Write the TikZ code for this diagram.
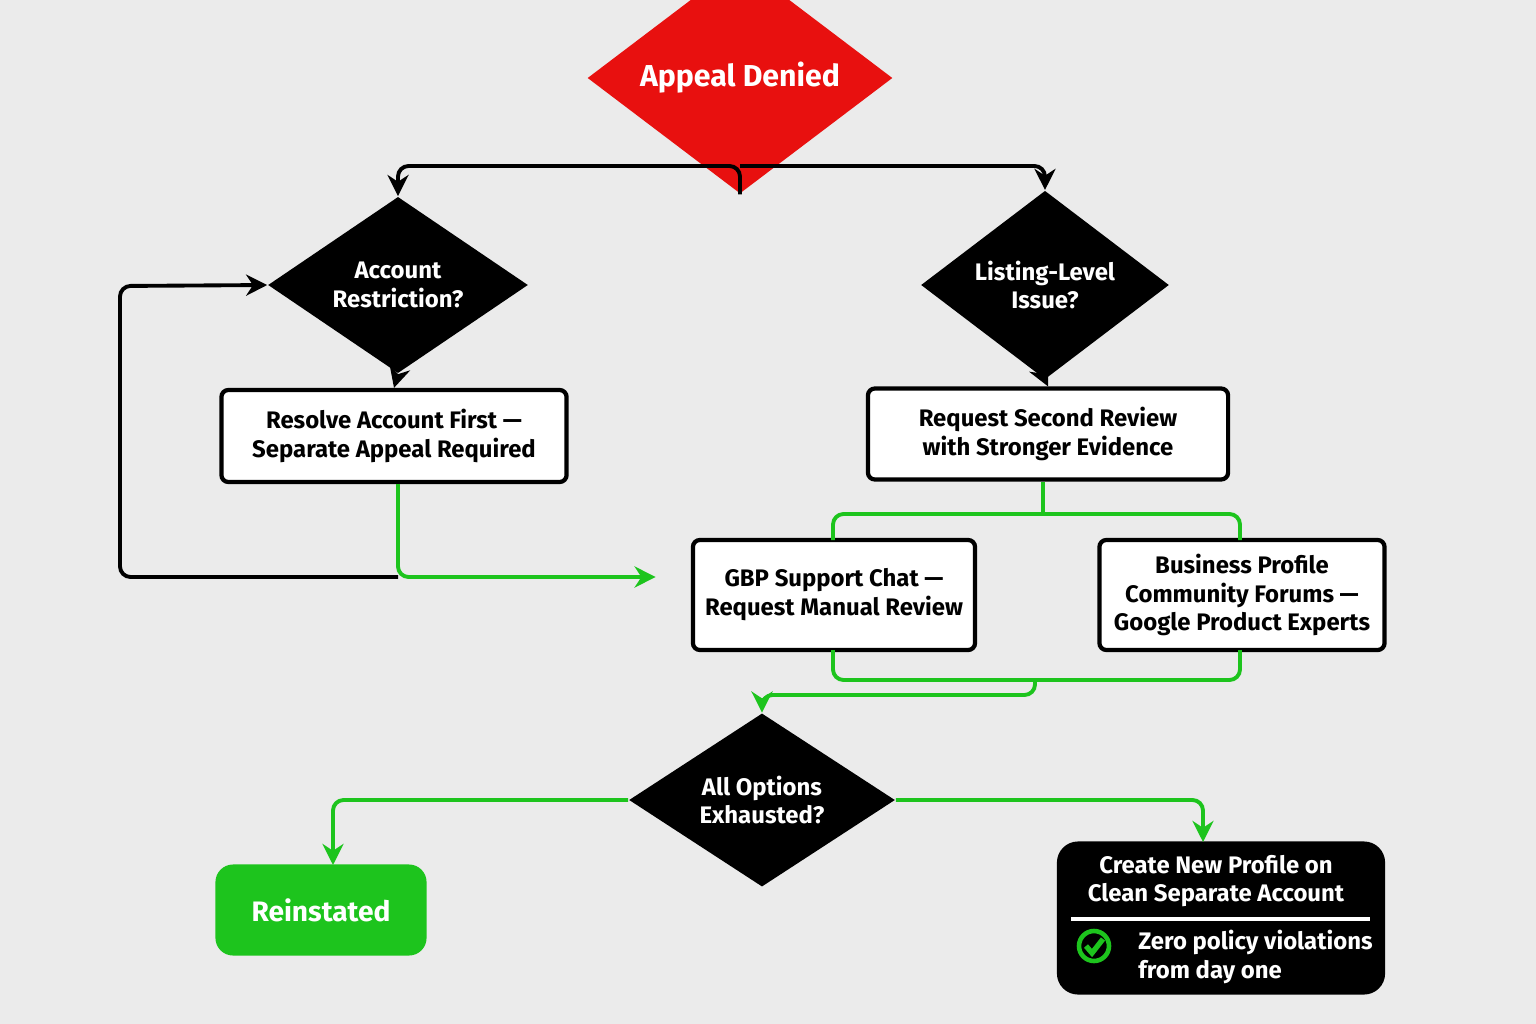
\documentclass[tikz,border=0pt]{standalone}
\usepackage{fontspec}
\setmainfont{Fira Sans}
\usetikzlibrary{arrows.meta,shapes.geometric,positioning}
\definecolor{bg}{HTML}{EBEBEB}
\definecolor{denied}{HTML}{E8100F}
\definecolor{okgreen}{HTML}{1DC41D}
\tikzset{
    txt/.style={font=\fontsize{6.8}{8.2}\selectfont\bfseries, align=center},
    decision/.style={diamond, txt, fill=black, text=white, inner sep=0pt},
    task/.style={rectangle, txt, draw=black, line width=1.2pt, fill=white, rounded corners=2pt},
    flow/.style={line width=1.1pt, rounded corners=3pt},
    go/.style={flow, draw=okgreen},
    tip/.style={-{Stealth[length=6pt,width=6pt]}}
}
\begin{document}
\begin{tikzpicture}[x=0.01cm,y=-0.01cm]
    \fill[bg] (0,0) rectangle (1536,1024);
    \useasboundingbox (0,0) rectangle (1536,1024);

    % decisions
    \node[decision, fill=denied, minimum width=3.05cm, minimum height=1.52cm,
          font=\fontsize{8.6}{10}\selectfont\bfseries] (denied) at (740,78) {Appeal Denied};
    \node[decision, minimum width=2.6cm, minimum height=1.4cm] (account) at (398,285) {Account\\Restriction?};
    \node[decision, minimum width=2.48cm, minimum height=1.4cm] (listing) at (1045,285) {Listing-Level\\Issue?};
    \node[decision, minimum width=2.66cm, minimum height=1.46cm] (exhausted) at (762,800) {All Options\\Exhausted?};

    % tasks
    \node[task, minimum width=3.45cm, minimum height=0.92cm] (resolve) at (394,436)
        {Resolve Account First ---\\Separate Appeal Required};
    \node[task, minimum width=3.6cm, minimum height=0.91cm] (second) at (1048,434)
        {Request Second Review\\with Stronger Evidence};
    \node[task, minimum width=2.82cm, minimum height=1.1cm] (chat) at (834,595)
        {GBP Support Chat ---\\Request Manual Review};
    \node[task, minimum width=2.85cm, minimum height=1.1cm] (forums) at (1242,595)
        {Business Profile\\Community Forums ---\\Google Product Experts};
    \node[task, draw=none, fill=okgreen, text=white, rounded corners=5pt,
          minimum width=2.11cm, minimum height=0.91cm,
          font=\fontsize{8}{10}\selectfont\bfseries] (reinstated) at (321,910) {Reinstated};
    \node[task, draw=none, fill=black, rounded corners=6pt,
          minimum width=3.28cm, minimum height=1.53cm] (newprofile) at (1221,918) {};
    \node[txt, text=white] (newtitle) at (1216,881) {Create New Profile on\\Clean Separate Account};
    \draw[white, line width=1pt] (1071,919) -- (1370,919);
    \node[txt, text=white, align=left, anchor=west] (zero) at (1126,957) {Zero policy violations\\from day one};
    \draw[okgreen, line width=1.3pt] (1094,946) circle (15);
    \draw[okgreen, line width=1.5pt] (1086,946) -- (1092,953) -- (1103,939);

    % connectors
    \coordinate (split) at (740,166);
    \draw[flow, tip] (denied.south) -- (split) -| (account.north);
    \draw[flow, tip] (split) -| (listing.north);
    \draw[flow, tip] (account.south) -- (resolve.north);
    \draw[flow, tip] (listing.south) -- (second.north);

    \coordinate (loop) at (398,577);
    \draw[flow, tip] (loop) -- (120,577) -- (120,286) -- (account.west);
    \draw[go, tip] (resolve.south -| loop) -- (loop) -- ([xshift=-10]chat.west |- loop);

    \coordinate (fork) at (1043,514);
    \draw[go] (second.south -| fork) -- (fork);
    \draw[go] (fork) -| (833,540);
    \draw[go] (fork) -| (1240,540);

    \coordinate (join) at (1035,680);
    \draw[go] (833,650) |- (join) -| (1240,650);
    \draw[go, tip] (join) -- (1035,695) -| (exhausted.north);

    \coordinate (leftdrop) at (333,865);
    \coordinate (rightdrop) at (1203,842);
    \draw[go, tip] (exhausted.west) -| (leftdrop);
    \draw[go, tip] (exhausted.east) -| (rightdrop);
\end{tikzpicture}
\end{document}
